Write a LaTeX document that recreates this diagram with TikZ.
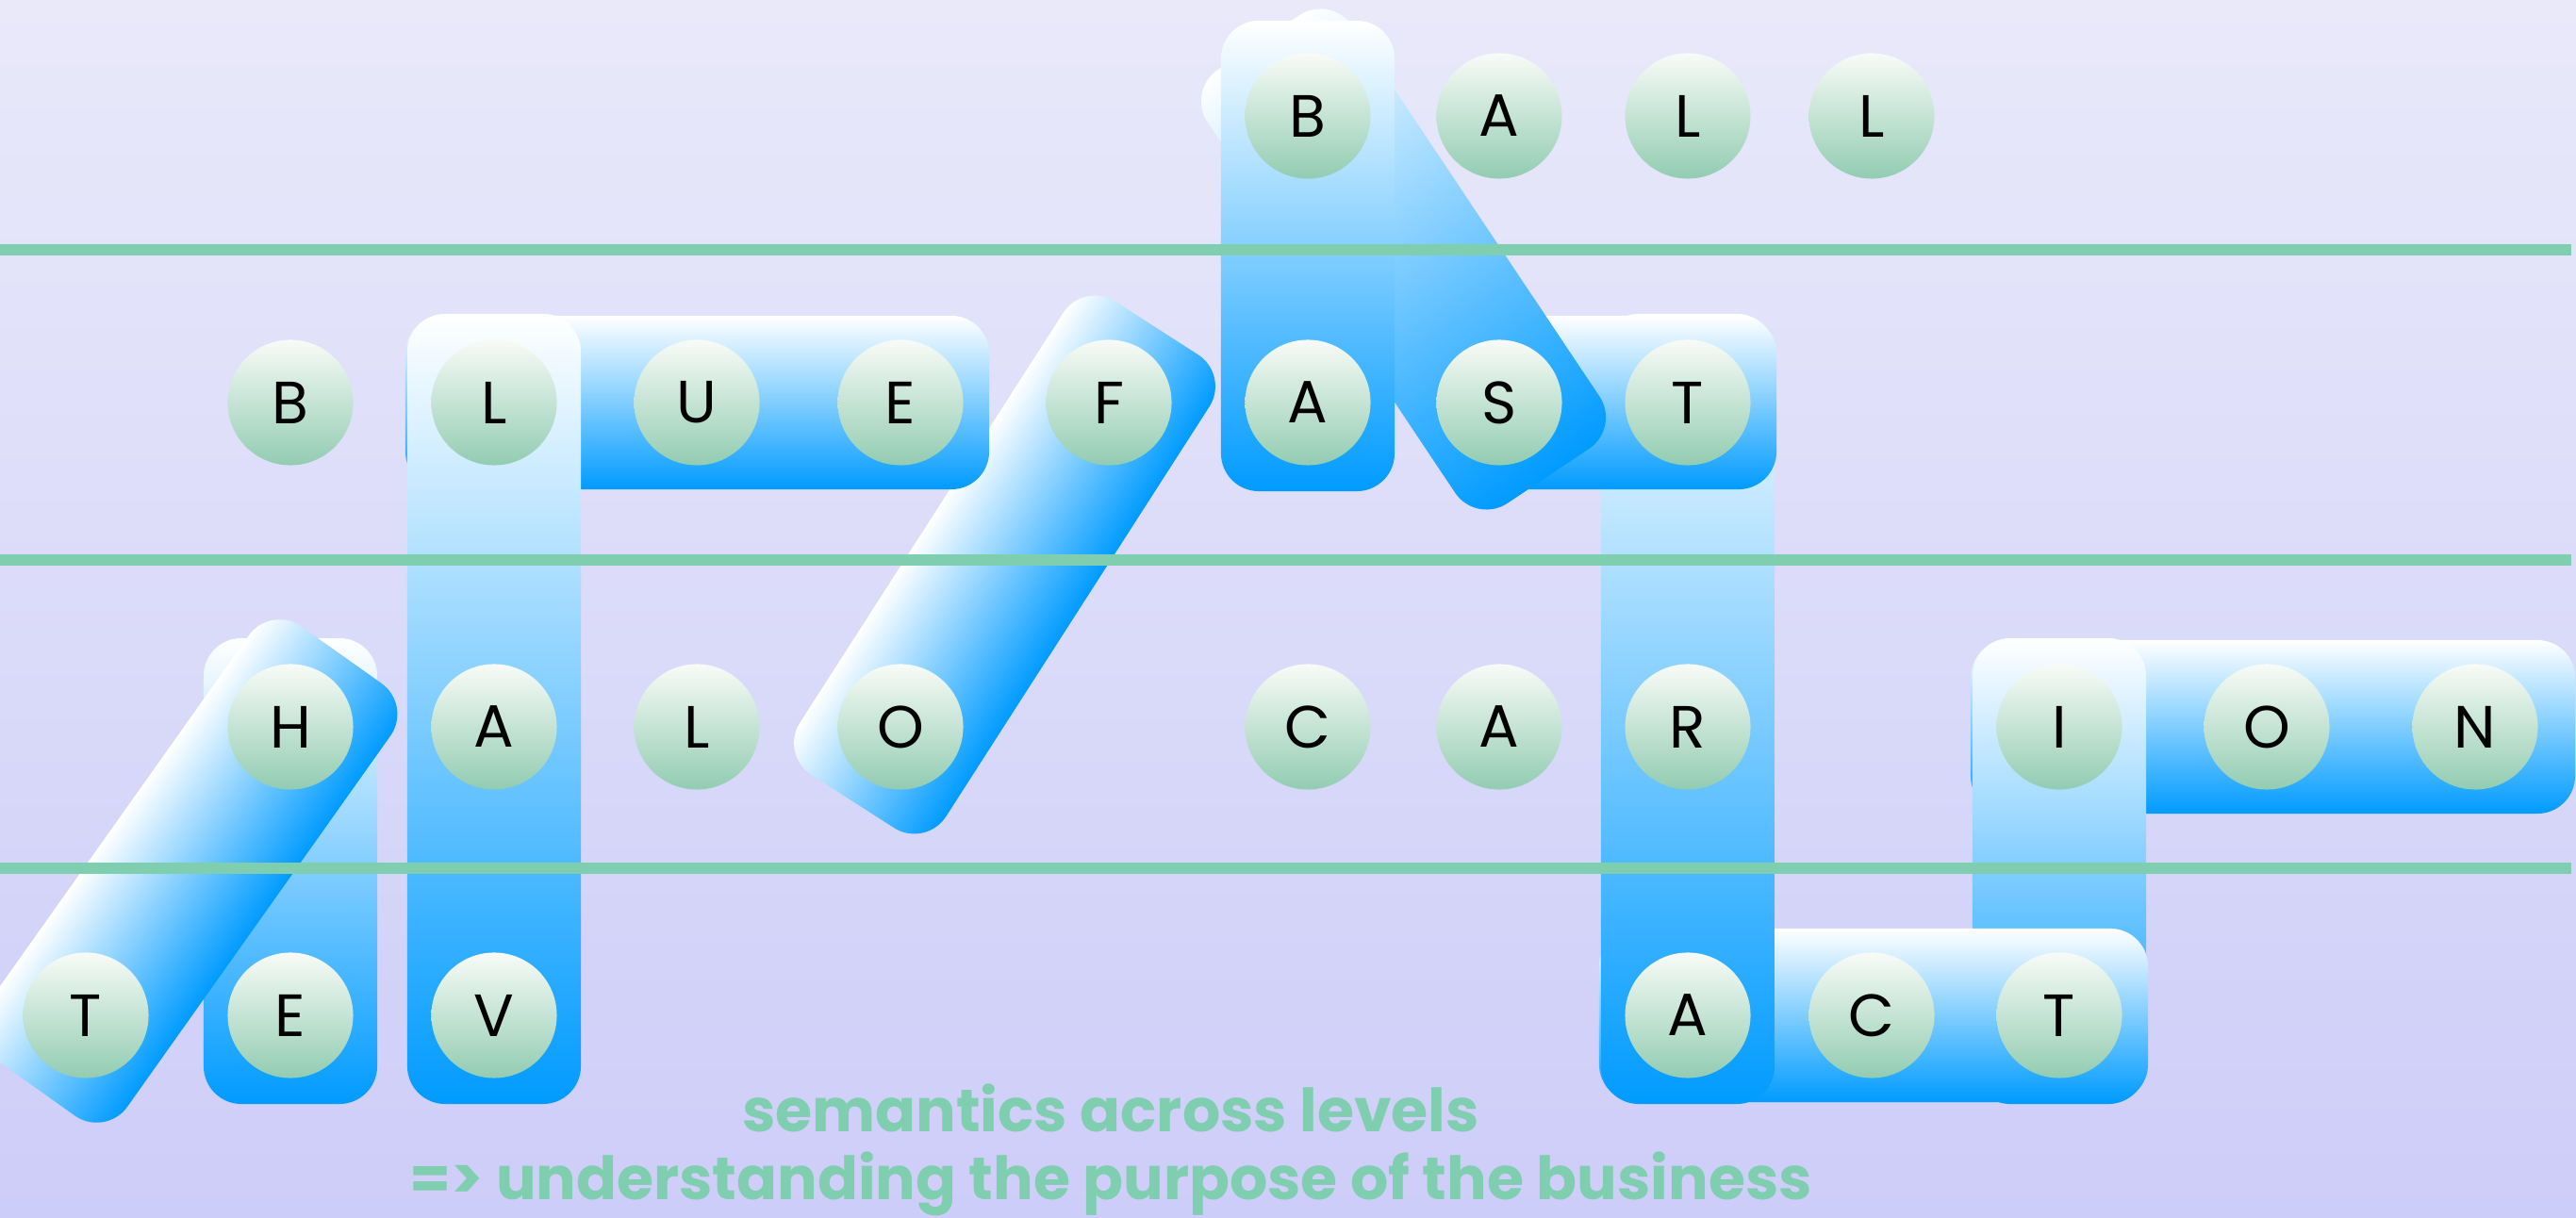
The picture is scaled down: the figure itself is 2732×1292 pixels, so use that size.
\documentclass[tikz,border=0pt]{standalone}
\usepackage{fontspec}
\setmainfont{Poppins}
\usetikzlibrary{calc, backgrounds}

\definecolor{bgtop}{RGB}{233,233,250}
\definecolor{bgbottom}{RGB}{205,205,249}
\definecolor{barblue}{RGB}{0,155,255}
\definecolor{levelgreen}{RGB}{128,206,176}
\definecolor{circtop}{RGB}{248,251,247}
\definecolor{circbottom}{RGB}{146,204,178}

% rounded bar laid from one letter to another
\newcommand{\wordbar}[3][bar]{%
  \path let \p1=($(#3)-(#2)$), \n1={veclen(\x1,\y1)}, \n2={atan2(\y1,\x1)} in
    \pgfextra{\xdef\barlen{\n1}\xdef\barangle{\n2}};
  \begin{scope}[transform canvas={rotate around={\barangle:($(#2)!0.5!(#3)$)}}]
    \node[#1, minimum width={\barlen+1.88cm}] at ($(#2)!0.5!(#3)$) {};
  \end{scope}
}

\begin{document}
\begin{tikzpicture}[
        x=0.01cm, y=-0.01cm,
        letter/.style={
                circle, inner sep=0pt, minimum size=1.33cm,
                top color=circtop, bottom color=circbottom,
                font=\fontsize{18}{18}\selectfont
            },
        bar/.style={
                rectangle, rounded corners=0.4cm, inner sep=0pt,
                minimum height=1.84cm,
                top color=white, bottom color=barblue
            },
        alongbar/.style={
                rectangle, rounded corners=0.4cm, inner sep=0pt,
                minimum height=1.84cm,
                left color=barblue, right color=white
            },
        level/.style={levelgreen, line width=0.12cm},
        caption/.style={
                text=levelgreen, anchor=base,
                font=\fontsize{18}{18}\selectfont\bfseries
            },
    ]

    \useasboundingbox (0,0) rectangle (2732,1292);

    % top level
    \node[letter] (ballB)  at (1387,123) {B};
    \node[letter] (ballA)  at (1590,123) {A};
    \node[letter] (ballL)  at (1790,123) {L};
    \node[letter] (ballLL) at (1985,123) {L};

    % second level
    \node[letter] (blueB) at (308,427)  {B};
    \node[letter] (blueL) at (524,427)  {L};
    \node[letter] (blueU) at (739,427)  {U};
    \node[letter] (blueE) at (955,427)  {E};
    \node[letter] (fastF) at (1176,427) {F};
    \node[letter] (fastA) at (1387,427) {A};
    \node[letter] (fastS) at (1590,427) {S};
    \node[letter] (fastT) at (1790,427) {T};

    % third level
    \node[letter] (haloH) at (308,771)  {H};
    \node[letter] (haloA) at (524,771)  {A};
    \node[letter] (haloL) at (739,771)  {L};
    \node[letter] (haloO) at (955,771)  {O};
    \node[letter] (carC)  at (1387,771) {C};
    \node[letter] (carA)  at (1590,771) {A};
    \node[letter] (carR)  at (1790,771) {R};
    \node[letter] (ionI)  at (2184,771) {I};
    \node[letter] (ionO)  at (2404,771) {O};
    \node[letter] (ionN)  at (2625,771) {N};

    % bottom level
    \node[letter] (tevT) at (91,1077)   {T};
    \node[letter] (tevE) at (308,1077)  {E};
    \node[letter] (tevV) at (524,1077)  {V};
    \node[letter] (actA) at (1790,1077) {A};
    \node[letter] (actC) at (1985,1077) {C};
    \node[letter] (actT) at (2184,1077) {T};

    \coordinate (stleft) at ($(fastS)!0.4!(fastT)$);
    \coordinate (ionend) at ($(ionN)+(12,0)$);
    \coordinate (balltop) at ($(ballB)+(0,-7)$);

    \begin{scope}[on background layer]
        \shade[top color=bgtop, bottom color=bgbottom] (0,0) rectangle (2732,1292);

        \wordbar[alongbar]{tevE}{haloH}
        \wordbar{tevT}{haloH}
        \wordbar{haloO}{fastF}
        \wordbar{blueL}{blueE}
        \wordbar[alongbar]{tevV}{blueL}

        \wordbar{ionI}{ionend}
        \wordbar[alongbar]{actT}{ionI}
        \wordbar{actA}{actT}
        \wordbar[alongbar]{actA}{fastT}
        \wordbar{stleft}{fastT}
        \wordbar[alongbar]{fastS}{ballB}
        \wordbar[alongbar]{fastA}{balltop}

        \draw[level] (0,265) -- (2727,265);
        \draw[level] (0,594) -- (2727,594);
        \draw[level] (0,921) -- (2727,921);
    \end{scope}

    \node[caption] (semantics) at (1178,1201) {semantics across levels};
    \node[caption] (purpose)   at (1178,1273) {=> understanding the purpose of the business};
\end{tikzpicture}
\end{document}
